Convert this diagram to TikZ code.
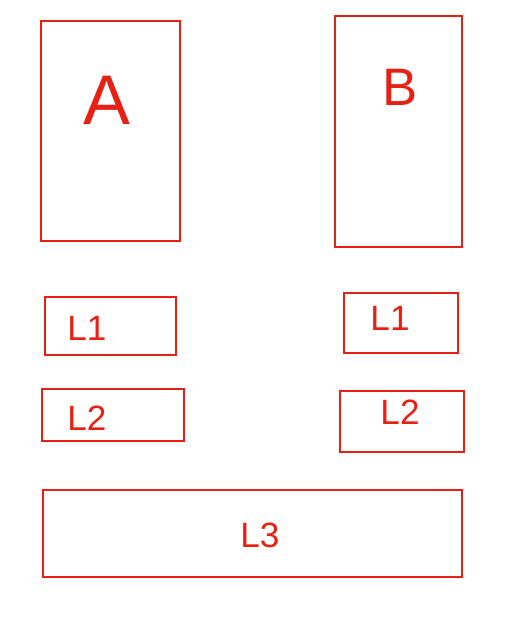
\documentclass[tikz,border=0pt]{standalone}
\usepackage{fontspec}
\setsansfont{Liberation Sans}
\usepackage{tikz}
\usetikzlibrary{positioning}
\definecolor{cdRed}{RGB}{232,32,20}

\begin{document}
\begin{tikzpicture}[
  box/.style={draw=cdRed, line width=1.2pt, inner sep=0pt},
  big/.style={font=\sffamily\fontsize{40}{40}\selectfont, text=cdRed},
  small/.style={font=\sffamily\fontsize{20}{20}\selectfont, text=cdRed}
]
\useasboundingbox (0,0) rectangle (10.54,-12.36);

% Top boxes
\node[box, minimum width=2.78cm, minimum height=4.40cm] (boxA) at (2.21,-2.62) {};
\node[box, minimum width=2.54cm, minimum height=4.62cm] (boxB) at (7.97,-2.63) {};

% Layer boxes
\node[box, minimum width=2.62cm, minimum height=1.16cm] (leftL1) at (2.21,-6.52) {};
\node[box, minimum width=2.28cm, minimum height=1.20cm] (rightL1) at (8.02,-6.46) {};
\node[box, minimum width=2.84cm, minimum height=1.04cm] (leftL2) at (2.26,-8.30) {};
\node[box, minimum width=2.48cm, minimum height=1.22cm] (rightL2) at (8.04,-8.43) {};
\node[box, minimum width=8.38cm, minimum height=1.74cm] (boxL3) at (5.05,-10.67) {};

% Labels
\node[big] (txtA) at (2.14,-2.00) {A};
\node[small, font=\sffamily\fontsize{30}{30}\selectfont] (txtB) at (8.00,-1.74) {B};
\node[small] (txtLeftL1) at (1.74,-6.56) {L1};
\node[small] (txtRightL1) at (7.80,-6.36) {L1};
\node[small] (txtLeftL2) at (1.74,-8.36) {L2};
\node[small] (txtRightL2) at (8.00,-8.24) {L2};
\node[small] (txtL3) at (5.20,-10.70) {L3};

\end{tikzpicture}
\end{document}
